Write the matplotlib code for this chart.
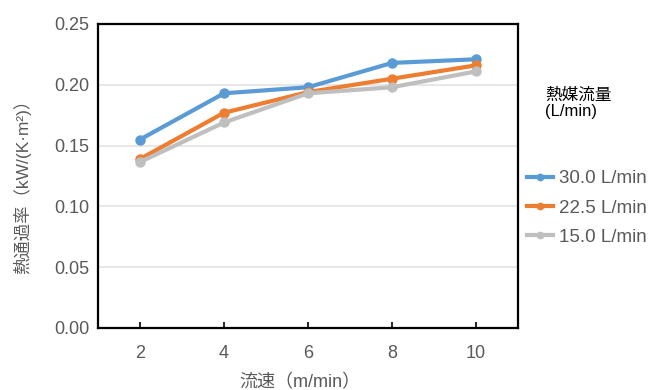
import matplotlib.pyplot as plt

plt.rcParams['font.family'] = ['Liberation Sans', 'Noto Sans CJK JP', 'DejaVu Sans']

# データ
speeds = ["2", "4", "6", "8", "10"]
flow_30 = [0.155, 0.193, 0.198, 0.218, 0.221]
flow_225 = [0.139, 0.177, 0.194, 0.205, 0.216]
flow_15 = [0.1365, 0.169, 0.193, 0.198, 0.211]
labels = ["30.0 L/min", "22.5 L/min", "15.0 L/min"]
colors = ["#5b9bd5", "#ed7d31", "#bfbfbf"]
yticks = [0, 0.05, 0.10, 0.15, 0.20, 0.25]

gray = "#595959"

fig = plt.figure(figsize=(6.7, 3.9), dpi=100)
ax = fig.add_axes([98 / 670, 62 / 390, 420 / 670, 304 / 390])

x = range(len(speeds))
for vals, lab, c in zip([flow_30, flow_225, flow_15], labels, colors):
    ax.plot(x, vals, color=c, lw=3, marker="o", ms=6.5, label=lab)

ax.set_xlim(-0.5, len(speeds) - 0.5)
ax.set_ylim(0, 0.25)
ax.set_yticks(yticks)
ax.set_yticklabels([f"{v:.2f}" for v in yticks])
ax.set_xticks(list(x))
ax.set_xticklabels(speeds)

ax.grid(axis="y", color="#e0e0e0", lw=1.1)
ax.set_axisbelow(True)
for s in ax.spines.values():
    s.set_color("black")
    s.set_linewidth(1.6)

ax.tick_params(axis="x", direction="in", length=4, width=1.2, color="black",
               labelsize=13, labelcolor=gray, pad=12)
ax.tick_params(axis="y", length=0, labelsize=13, labelcolor=gray, pad=6)

# mathtext はフォールバックしないので上付き文字はユニコードで
ax.set_ylabel("熱通過率（kW/(K·m²)）", color=gray, fontsize=12.5)
ax.yaxis.set_label_coords(-0.16, 0.48)
ax.set_xlabel("流速（m/min）", color=gray, fontsize=13)
ax.xaxis.set_label_coords(0.48, -0.15)

fig.text(545 / 670, 1 - 103 / 390, "熱媒流量\n(L/min)", fontsize=12,
         color="black", va="center", ha="left", linespacing=1.1)

ax.legend(loc="center left", bbox_to_anchor=(527 / 670, 1 - 208 / 390),
          bbox_transform=fig.transFigure, frameon=False, fontsize=13.5,
          labelcolor=gray, handlelength=1.4, handletextpad=0.3,
          labelspacing=0.65, borderaxespad=0, borderpad=0, markerscale=0.7)

fig.savefig("out.png", dpi=100)
